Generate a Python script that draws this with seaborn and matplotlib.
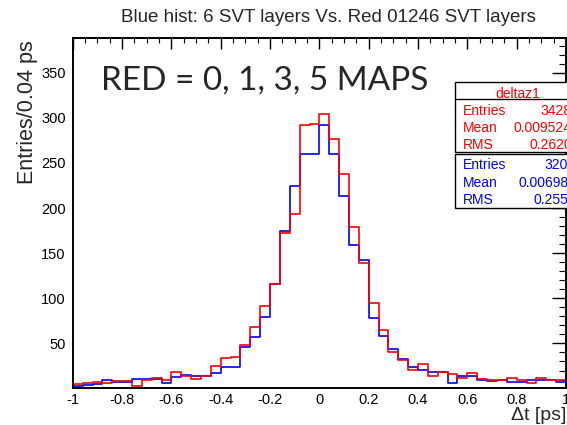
import numpy as np
import pandas as pd
import matplotlib
matplotlib.use("Agg")
import matplotlib.pyplot as plt
from matplotlib.patches import Rectangle
from matplotlib.ticker import FixedLocator, FuncFormatter
import seaborn as sns

# ---- data (counts per 0.04 ps bin, from -1 to 1 ps) ----
x_min = -1.0
x_max = 1.0
n_bins = 50

red_counts = [5, 6, 7, 6, 8, 8, 3, 10, 12, 10,
              18, 14, 11, 14, 25, 34, 35, 48, 68, 91,
              116, 172, 193, 292, 293, 304, 277, 238, 179, 139,
              95, 65, 41, 32, 21, 27, 14, 18, 16, 12,
              17, 11, 10, 9, 12, 10, 6, 12, 10, 10]
blue_counts = [3, 4, 5, 10, 7, 7, 11, 11, 11, 6,
               13, 15, 14, 14, 17, 24, 24, 46, 57, 79,
               116, 175, 224, 260, 260, 292, 260, 213, 159, 142,
               78, 58, 44, 33, 24, 21, 18, 18, 6, 14,
               14, 10, 8, 9, 7, 7, 9, 9, 10, 7]

title = "Blue hist: 6 SVT layers Vs. Red 01246 SVT layers"
big_label = "RED = 0, 1, 3, 5 MAPS"
x_label = "\u0394t [ps]"
y_label = "Entries/0.04 ps"
y_ticks = [50, 100, 150, 200, 250, 300, 350]
x_ticks = [-1, -0.8, -0.6, -0.4, -0.2, 0, 0.2, 0.4, 0.6, 0.8, 1]

red_stats = [("Entries", "3428"), ("Mean", "0.009524"), ("RMS", "0.2620")]
blue_stats = [("Entries", "3204"), ("Mean", "0.006984"), ("RMS", "0.2553")]
stats_title = "deltaz1"

# ---- build table ----
edges = np.linspace(x_min, x_max, n_bins + 1)
centers = (edges[:-1] + edges[1:]) / 2
df = pd.DataFrame({"dt": np.concatenate([centers, centers]),
                   "n": red_counts + blue_counts,
                   "set": ["red"] * n_bins + ["blue"] * n_bins})

sns.set_theme(style="white")
plt.rcParams["font.family"] = ["Liberation Sans", "DejaVu Sans"]
plt.rcParams["axes.unicode_minus"] = False

W, H = 567, 425
fig = plt.figure(figsize=(W / 100, H / 100), dpi=100)

def fx(px):
    return px / W

def fy(py):
    return 1 - py / H

ax_l, ax_r, ax_t, ax_b = 72.8, 566.0, 38.3, 387.5
ax = fig.add_axes([fx(ax_l), fy(ax_b), fx(ax_r - ax_l), (ax_b - ax_t) / H])

sns.histplot(data=df[df["set"] == "blue"], x="dt", weights="n", bins=n_bins,
             binrange=(x_min, x_max), element="step", fill=False,
             color="#0000ff", linewidth=1.2, ax=ax)
sns.histplot(data=df[df["set"] == "red"], x="dt", weights="n", bins=n_bins,
             binrange=(x_min, x_max), element="step", fill=False,
             color="#ff0000", linewidth=1.2, ax=ax)

ax.set_xlim(x_min, x_max)
ax.set_ylim(1.2, 388)
ax.set_xlabel("")
ax.set_ylabel("")

ax.xaxis.set_major_locator(FixedLocator(x_ticks))
ax.xaxis.set_minor_locator(FixedLocator(np.arange(-1, 1.001, 0.05)))
ax.yaxis.set_major_locator(FixedLocator(y_ticks))
ax.yaxis.set_minor_locator(FixedLocator(np.arange(10, 390, 10)))
ax.xaxis.set_major_formatter(FuncFormatter(lambda v, p: "%g" % round(v, 6)))
ax.yaxis.set_major_formatter(FuncFormatter(lambda v, p: "%d" % v))

ax.tick_params(axis="both", which="both", direction="in", top=True, right=True,
               color="black", labelsize=10.5, labelcolor="black")
ax.tick_params(axis="x", which="major", length=7.6, width=1.0, pad=4)
ax.tick_params(axis="x", which="minor", length=3.8, width=0.8)
ax.tick_params(axis="y", which="major", length=10, width=1.0, pad=5)
ax.tick_params(axis="y", which="minor", length=5, width=0.8)
for s in ax.spines.values():
    s.set_color("black")
    s.set_linewidth(1.4)

# texts
fig.text(fx(328), fy(17), title, ha="center", va="center", fontsize=13.5)
fig.text(fx(566), fy(420), x_label, ha="right", va="baseline", fontsize=14)
fig.text(fx(28), fy(40), y_label, ha="center", va="top", rotation=90, fontsize=15.5)
fig.text(fx(101), fy(90), big_label, ha="left", va="baseline", fontsize=24,
         family=["Lato", "DejaVu Sans"])

# stats boxes
def stats_box(top, bottom, rows, row_y, color, value_x, header=None):
    sh = Rectangle((fx(456.5), fy(bottom + 1.5)), fx(140), (bottom - top) / H,
                   transform=fig.transFigure, facecolor="#333333", edgecolor="none", zorder=9)
    fig.patches.append(sh)
    r = Rectangle((fx(455), fy(bottom)), fx(140), (bottom - top) / H,
                  transform=fig.transFigure, facecolor="white", edgecolor="black",
                  linewidth=1.0, zorder=10)
    fig.patches.append(r)
    if header is not None:
        fig.text(fx(517.5), fy(header[1]), header[0], ha="center", va="center_baseline",
                 color=color, fontsize=10, zorder=11)
        fig.add_artist(plt.Line2D([fx(455), fx(600)], [fy(header[2]), fy(header[2])],
                                  transform=fig.transFigure, color="black", linewidth=1.0, zorder=11))
    for (name, val), yy in zip(rows, row_y):
        fig.text(fx(462.5), fy(yy), name, ha="left", va="center_baseline", color=color,
                 fontsize=10, zorder=11)
        fig.text(fx(value_x), fy(yy), val, ha="right", va="center_baseline", color=color,
                 fontsize=10, zorder=11)

stats_box(82.3, 151.7, red_stats, [109.7, 126.3, 143.7], "#ff0000", 572,
          header=(stats_title, 92, 99))
stats_box(154, 207.7, blue_stats, [163.7, 181.7, 199], "#0000ff", 576)

fig.savefig("out.png", dpi=100)
